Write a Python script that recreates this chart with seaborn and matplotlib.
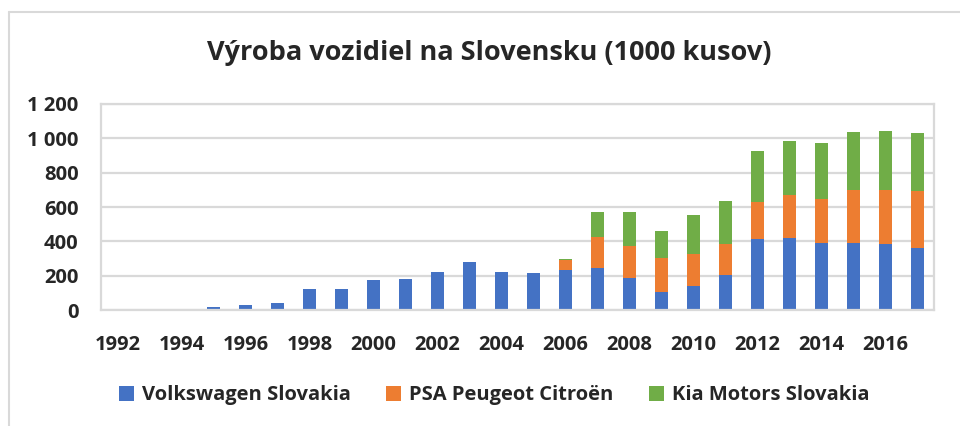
import seaborn as sns
import matplotlib.pyplot as plt
import pandas as pd
from matplotlib.lines import Line2D
from matplotlib.patches import Patch
from matplotlib.ticker import FuncFormatter

# Dáta (tisíc kusov)
years = list(range(1992, 2018))
vw = [0, 0, 7, 16, 29, 41, 122, 122, 177, 181, 224, 279, 220, 215, 236,
      246, 185, 103, 139, 204, 416, 421, 390, 392, 384, 359]
psa = [0] * 14 + [53, 179, 187, 203, 186, 178, 215, 251, 257, 306, 318, 335]
kia = [0] * 14 + [6, 144, 201, 152, 230, 255, 294, 314, 325, 339, 341, 337]
series = ["Volkswagen Slovakia", "PSA Peugeot Citroën", "Kia Motors Slovakia"]
colors = ["#4472C4", "#ED7D31", "#70AD47"]

df = pd.DataFrame({"rok": [str(y) for y in years], "vw": vw, "psa": psa, "kia": kia})
df["b2"] = df["vw"] + df["psa"]

sns.set_theme(style="white")
plt.rcParams["font.family"] = ["Open Sans", "DejaVu Sans"]
plt.rcParams["font.weight"] = "bold"

fig = plt.figure(figsize=(9.6, 4.26), dpi=100)
ax = fig.add_axes([0.105, 0.272, 0.868, 0.484])

kw = dict(width=0.4, linewidth=0, saturation=1, ax=ax)
sns.barplot(data=df, x="rok", y="vw", color=colors[0], **kw)
sns.barplot(data=df, x="rok", y="psa", bottom=df["vw"], color=colors[1], **kw)
sns.barplot(data=df, x="rok", y="kia", bottom=df["b2"], color=colors[2], **kw)

ax.set_ylim(0, 1200)
ax.set_xlim(-0.52, 25.52)
ax.set_yticks(range(0, 1201, 200))
ax.yaxis.set_major_formatter(FuncFormatter(lambda v, p: f"{int(v):,}".replace(",", " ")))
ax.set_xticks(range(0, 26, 2))
ax.set_xticklabels([str(y) for y in years[::2]])
ax.tick_params(axis="y", length=0, pad=16, labelsize=14.5)
ax.tick_params(axis="x", length=0, pad=18, labelsize=14.5)
for t in ax.get_xticklabels() + ax.get_yticklabels():
    t.set_fontweight("bold")
ax.set_xlabel("")
ax.set_ylabel("")
ax.grid(axis="y", color="#D9D9D9", linewidth=1.6)
ax.set_axisbelow(True)
for s in ax.spines.values():
    s.set_color("#D9D9D9")
    s.set_linewidth(1.6)

fig.suptitle("Výroba vozidiel na Slovensku (1000 kusov)", fontsize=19.5,
             fontweight="bold", x=0.51, y=0.905)

handles = [Patch(facecolor=c, edgecolor="none") for c in colors]
fig.legend(handles, series, loc="center", bbox_to_anchor=(0.515, 0.072), ncol=3,
           frameon=False, prop={"size": 14.5, "weight": "bold"}, handlelength=0.75,
           handleheight=0.75, handletextpad=0.4, columnspacing=1.75)

# rámček grafu
fig.add_artist(Line2D([9 / 960, 9 / 960], [0, 1 - 12 / 426], color="#D9D9D9", lw=1.5))
fig.add_artist(Line2D([9 / 960, 1], [1 - 12 / 426, 1 - 12 / 426], color="#D9D9D9", lw=1.5))

fig.savefig("out.png", dpi=100, facecolor="white")
